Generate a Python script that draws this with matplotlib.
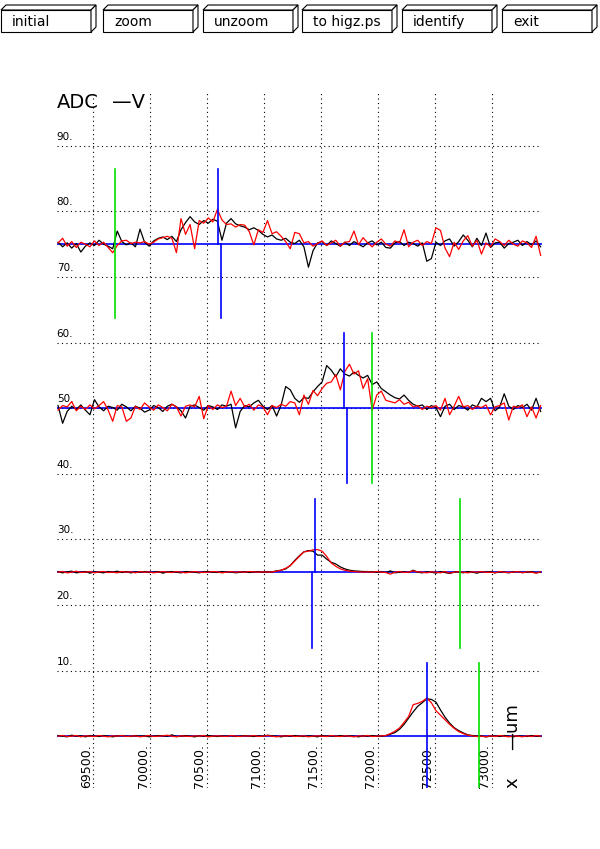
import numpy as np
import matplotlib
matplotlib.use("Agg")
import matplotlib.pyplot as plt
from matplotlib.patches import Polygon

# --- sampling of the scan (um) ---
x_start = 69190
x_step = 40
n_pts = 107

# baselines of the four channels (ADC)
baselines = [75, 50, 25, 0]

# --- offsets from baseline ---
ch1_black = [0.3, -0.4, 0.2, -0.6, 0.1, -1.2, -0.3, 0.2, -0.2, 0.6,
             0.0, -0.3, -0.7, 2.0, 0.4, -0.1, 0.2, -0.4, 2.3, 0.3,
             -0.3, 0.5, 0.9, 1.1, 0.7, 1.2, 0.4, 2.2, 3.3, 4.2,
             3.4, 3.0, 3.6, 3.2, 3.8, 3.5, 0.6, 3.2, 3.9, 3.1,
             2.8, 2.6, 2.2, 2.5, 2.1, 1.5, 1.1, 1.4, 0.8, 0.6,
             0.9, 0.3, 0.1, 0.6, -0.4, -3.5, -1.0, 0.2, 0.4, -0.2,
             0.5, 0.1, -0.3, 0.3, -0.2, 0.4, 0.0, -0.4, 0.2, 0.5,
             -0.1, 0.3, -0.5, -0.6, 0.2, 0.4, -0.2, 0.3, 0.1, -0.3,
             0.2, -2.6, -2.2, 0.3, -0.2, 0.5, 0.8, -0.3, 0.4, 1.4,
             0.6, -0.4, 0.9, -0.2, 1.7, -0.5, 0.2, 0.3, -0.6, 0.1,
             0.3, 0.6, -0.2, 0.4, -0.1, 0.5, -0.4]
ch1_red = [0.2, 0.9, -0.3, 0.4, -0.5, 0.3, 0.0, -0.4, 0.5, -0.2,
           0.3, -0.5, -1.3, -0.2, 0.5, 0.6, 0.1, 0.3, 0.2, 0.4,
           0.0, 0.3, 0.8, 1.0, 1.2, 0.9, -1.3, 3.9, 1.5, 3.0,
           -0.7, 3.6, 3.2, 4.0, 3.4, 5.3, 3.7, 3.0, 3.1, 2.6,
           3.0, 2.9, 1.9, -0.1, 2.2, 1.8, 3.6, 1.6, 1.9, 1.2,
           0.4, -0.7, 1.8, 1.6, 0.2, 0.4, -0.3, 0.1, 0.5, -0.2,
           0.2, 0.6, -0.3, 0.3, 0.4, 2.0, -0.1, 1.0, 0.2, -0.4,
           0.3, 0.8, 0.0, -0.3, 0.5, 0.2, 2.2, -0.4, 0.3, 0.6,
           -0.2, 0.4, 0.1, 2.5, 2.1, -0.6, -1.9, 0.3, -0.8, 0.5,
           1.3, -0.3, 0.6, -1.5, 0.2, -0.4, 0.8, 0.4, -0.2, 0.6,
           0.0, -0.3, 0.5, 0.2, -0.5, 1.2, -1.7]

ch2_black = [0.4, -2.3, -0.5, 0.3, -0.2, 0.5, -0.3, -1.0, 1.3, 0.2,
             -0.4, 0.3, 0.1, -0.3, 0.6, 0.2, -0.4, 0.3, 0.0, -0.6,
             -0.3, 0.4, 0.1, -0.5, 0.3, 0.6, 0.2, -0.4, -1.5, 0.3,
             0.5, 0.1, -0.3, 0.4, 0.2, -0.2, 0.5, 0.3, 0.6, -3.0,
             -0.5, 0.4, 0.2, 0.8, 1.2, 0.3, -0.2, 0.4, -1.2, 0.5,
             3.3, 2.8, 1.5, 0.9, 1.6, 1.5, 2.5, 3.3, 4.0, 6.5,
             5.8, 4.8, 6.0, 5.2, 4.9, 5.5, 5.0, 4.6, 5.0, 3.6,
             4.0, 3.0, 2.5, 2.0, 1.6, 1.4, 2.0, 1.2, 0.6, 0.3,
             0.5, -0.2, 0.4, 0.1, -1.3, 0.3, 0.6, -0.2, 0.4, 0.2,
             -0.3, 0.5, 0.2, 1.5, 1.0, 1.5, -0.4, 0.2, 2.2, 0.3,
             -0.2, 0.4, 0.1, 0.6, -0.3, 1.5, -0.5]
ch2_red = [-0.3, 0.4, 0.2, 1.0, -0.4, 0.3, -0.2, 0.5, -0.1, 0.4,
           1.0, -0.3, -2.0, 0.4, 0.2, -2.0, -1.5, 0.3, -0.2, 0.8,
           0.2, -0.3, 0.5, 0.1, -0.4, 0.6, 0.2, -1.2, 0.3, 0.5,
           0.2, 1.8, -1.6, 0.4, -0.2, 0.5, 0.1, 0.3, 2.6, 0.4,
           1.5, 0.2, 0.6, -0.3, 0.5, 0.2, -1.0, 0.4, 0.1, 0.6,
           0.3, 1.0, 0.8, -1.0, 2.0, 0.6, 2.7, 1.9, 3.0, 3.8,
           4.0, 5.1, 2.8, 5.6, 6.7, 5.2, 5.7, 3.0, 4.5, -0.3,
           2.0, 2.6, 1.2, 1.0, 0.8, 1.3, 0.6, 0.9, 0.2, 0.4,
           -0.2, 0.3, 0.1, 0.4, -0.3, 1.5, -1.0, 0.3, 1.8, 0.2,
           0.4, -0.2, 0.3, 0.1, 0.5, -1.0, 0.2, 0.4, 0.8, -1.8,
           0.3, 0.1, 0.5, -1.3, 0.2, -1.5, 0.4]

ch3_black = [0.1, -0.1, 0.05, 0.15, -0.1, 0.0, 0.1, -0.15, 0.05, 0.0,
             -0.1, 0.1, 0.0, 0.15, -0.05, 0.1, -0.1, 0.05, 0.0, 0.1,
             -0.05, 0.0, 0.1, -0.15, 0.05, 0.1, 0.0, -0.1, 0.1, 0.05,
             0.0, -0.1, 0.05, 0.1, 0.0, -0.05, 0.1, 0.0, 0.05, -0.1,
             0.0, 0.05, -0.05, 0.0, 0.1, 0.0, 0.05, 0.05, 0.2, 0.3,
             0.5, 1.0, 1.8, 2.5, 3.1, 3.3, 3.2, 2.6, 2.6, 2.0,
             1.5, 1.25, 0.8, 0.5, 0.3, 0.2, 0.15, 0.1, 0.1, 0.05,
             0.0, 0.05, -0.05, 0.2, -0.1, 0.0, 0.05, -0.05, 0.3, 0.0,
             -0.1, 0.05, 0.0, -0.15, 0.1, -0.05, -0.2, 0.0, 0.05, -0.1,
             0.1, 0.0, -0.15, 0.05, 0.0, 0.1, -0.1, 0.05, 0.0, -0.1,
             0.05, 0.1, -0.05, 0.0, 0.1, -0.1, 0.0]
ch3_red = [0.0, 0.1, -0.1, 0.0, 0.15, -0.05, 0.0, 0.1, -0.1, 0.05,
           0.1, -0.05, 0.0, -0.1, 0.1, 0.0, 0.05, -0.1, 0.1, 0.0,
           0.05, -0.1, 0.0, 0.1, 0.0, -0.05, 0.1, 0.0, -0.1, 0.0,
           0.1, 0.0, -0.05, 0.0, 0.1, 0.05, -0.1, 0.0, 0.1, 0.0,
           0.05, 0.0, 0.1, 0.05, 0.0, 0.05, 0.0, 0.05, 0.15, 0.3,
           0.6, 1.0, 1.7, 2.4, 3.1, 3.2, 3.4, 3.45, 3.2, 2.4,
           1.4, 0.9, 0.5, 0.3, 0.15, 0.1, 0.05, 0.0, 0.05, 0.0,
           0.1, 0.0, -0.05, -0.3, 0.0, 0.1, -0.05, 0.0, 0.2, 0.05,
           0.0, -0.1, 0.05, 0.0, -0.1, 0.1, -0.15, 0.0, 0.05, 0.0,
           -0.1, 0.05, 0.0, 0.1, -0.05, 0.0, -0.1, 0.1, 0.0, -0.05,
           0.0, 0.1, -0.1, 0.05, 0.0, -0.15, 0.05]

ch4_black = [0.1, 0.0, -0.1, 0.15, 0.0, 0.05, -0.1, 0.1, 0.0, -0.05,
             0.1, 0.0, -0.1, 0.05, 0.1, 0.0, -0.05, 0.1, 0.0, 0.05,
             -0.1, 0.0, 0.1, 0.05, 0.0, 0.2, -0.05, 0.0, 0.1, 0.0,
             -0.1, 0.05, 0.0, 0.1, 0.0, -0.05, 0.05, 0.0, 0.1, -0.05,
             0.0, 0.1, 0.0, -0.05, 0.05, 0.0, 0.15, 0.05, 0.0, -0.1,
             0.05, 0.0, 0.1, 0.0, -0.05, 0.05, 0.0, -0.1, 0.1, 0.0,
             0.05, -0.05, 0.1, 0.0, 0.05, 0.0, -0.1, 0.05, 0.0, 0.1,
             0.0, 0.0, 0.1, 0.3, 0.55, 1.05, 1.8, 2.75, 3.7, 4.55,
             5.1, 5.7, 5.6, 5.2, 4.0, 2.9, 2.0, 1.3, 0.85, 0.5,
             0.2, 0.1, 0.0, 0.05, -0.1, 0.0, 0.05, -0.05, 0.1, 0.0,
             -0.1, 0.05, 0.0, -0.05, 0.1, 0.0, -0.05]
ch4_red = [0.0, 0.1, -0.05, 0.0, 0.1, -0.1, 0.05, 0.0, -0.05, 0.1,
           0.0, -0.1, 0.05, 0.0, 0.1, -0.05, 0.0, 0.05, -0.1, 0.0,
           0.1, -0.05, 0.0, 0.05, 0.15, 0.0, -0.1, 0.05, 0.0, -0.05,
           0.05, 0.0, 0.1, -0.1, 0.0, 0.05, 0.0, -0.05, 0.1, 0.0,
           -0.05, 0.05, 0.0, 0.1, -0.05, 0.0, 0.1, 0.0, -0.1, 0.05,
           0.0, 0.1, -0.05, 0.0, 0.05, -0.1, 0.0, 0.05, 0.0, -0.05,
           0.1, 0.0, -0.05, 0.05, 0.0, -0.1, 0.05, 0.0, 0.1, -0.05,
           0.0, 0.05, 0.1, 0.4, 0.75, 1.25, 2.1, 3.0, 4.8, 5.0,
           5.3, 5.8, 5.1, 3.9, 3.2, 2.5, 1.8, 1.2, 0.7, 0.4,
           0.15, 0.05, -0.05, 0.0, -0.1, 0.05, -0.05, 0.1, 0.0, -0.1,
           0.05, 0.0, -0.1, 0.05, -0.05, 0.1, 0.0]

black_traces = [ch1_black, ch2_black, ch3_black, ch4_black]
red_traces = [ch1_red, ch2_red, ch3_red, ch4_red]

# vertical markers: x position, y from, y to, colour
marker_x = [69693, 70598, 70622, 71705, 71727, 71952, 71445, 71424, 72725, 72430, 72892]
marker_lo = [63.7, 75.0, 63.7, 50.0, 38.6, 38.6, 25.0, 13.5, 13.5, -7.9, -7.9]
marker_hi = [86.4, 86.4, 75.0, 61.4, 50.0, 61.4, 36.2, 25.0, 36.2, 11.2, 11.2]
marker_col = ["#00e000", "blue", "blue", "blue", "blue", "#00e000",
              "blue", "blue", "#00e000", "blue", "#00e000"]

x_ticks = [69500, 70000, 70500, 71000, 71500, 72000, 72500, 73000]
y_ticks = [10, 20, 30, 40, 50, 60, 70, 80, 90]

buttons = ["initial", "zoom", "unzoom", "to higz.ps", "identify", "exit"]
button_left = [1, 103, 203, 302, 402, 502]

W, H = 600, 849
fig = plt.figure(figsize=(W / 100, H / 100), dpi=100)
fig.patch.set_facecolor("white")


def px(x, y):
    # pixel (from top-left) -> figure fraction
    return (x / W, 1 - y / H)


# --- buttons along the top ---
for name, x0 in zip(buttons, button_left):
    x1 = x0 + 90
    d = 5
    front = [px(x0, 10), px(x1, 10), px(x1, 32), px(x0, 32)]
    top = [px(x0, 10), px(x0 + d, 10 - d), px(x1 + d, 10 - d), px(x1, 10)]
    side = [px(x1, 10), px(x1 + d, 10 - d), px(x1 + d, 32 - d), px(x1, 32)]
    for pts in (front, top, side):
        fig.add_artist(Polygon(pts, closed=True, facecolor="white",
                               edgecolor="black", lw=0.8,
                               transform=fig.transFigure))
    fig.text(*px(x0 + 11, 22), name, fontsize=10, va="center", ha="left")

# --- plot area ---
ax = fig.add_axes([56.7 / W, 1 - 788 / H, (542 - 56.7) / W, (788 - 92) / H])
ax.set_xlim(69178, 73442)
ax.set_ylim(-7.9, 98.2)
for s in ax.spines.values():
    s.set_visible(False)
ax.set_xticks([])
ax.set_yticks([])

dot = (0, (1, 3))
for t in x_ticks:
    ax.axvline(t, color="black", lw=0.8, linestyle=dot, zorder=1)
for t in y_ticks:
    ax.axhline(t, color="black", lw=0.8, linestyle=dot, zorder=1)

x = x_start + x_step * np.arange(n_pts)
for base, kb, kr in zip(baselines, black_traces, red_traces):
    ax.axhline(base, color="blue", lw=1.2, zorder=2)
    ax.plot(x, base + np.array(kb), color="black", lw=0.9, zorder=3)
    ax.plot(x, base + np.array(kr), color="red", lw=0.9, zorder=4)

for mx, lo, hi, c in zip(marker_x, marker_lo, marker_hi, marker_col):
    ax.plot([mx, mx], [lo, hi], color=c, lw=1.2, zorder=5)

# tick labels in the HIGZ style
for t in y_ticks:
    ax.text(69178, t + 0.6, f"{t}.", fontsize=7.5, ha="left", va="bottom")
for t in x_ticks:
    ax.text(t - 6, -7.9, f"{t}.", fontsize=9, rotation=90,
            ha="right", va="bottom")

fig.text(*px(57, 93), "ADC", fontsize=14, va="top", ha="left")
fig.text(*px(112, 93), "\u2014V", fontsize=14, va="top", ha="left")
fig.text(*px(512, 788), "x", fontsize=13, rotation=90, va="bottom", ha="center")
fig.text(*px(512, 750), "\u2014um", fontsize=13, rotation=90, va="bottom", ha="center")

fig.savefig("out.png", dpi=100)
